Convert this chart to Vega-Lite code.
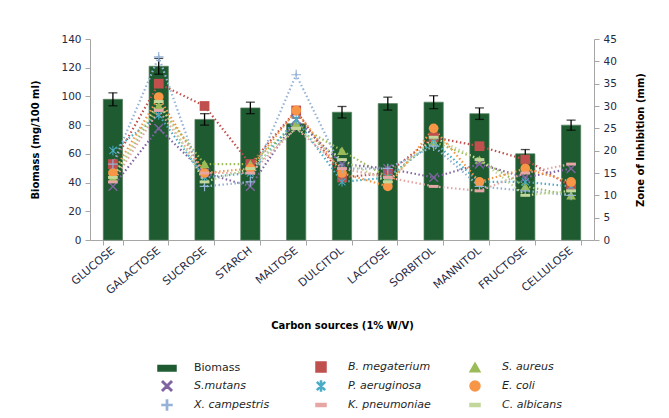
{
  "$schema": "https://vega.github.io/schema/vega-lite/v6.json",
  "width": 504,
  "height": 201,
  "autosize": {"type": "none"},
  "padding": {"left": 90, "top": 39, "right": 75, "bottom": 178},
  "background": "white",
  "config": {
    "view": {"stroke": null},
    "font": "DejaVu Sans",
    "axis": {"grid": false, "domainColor": "#A6A6A6", "tickColor": "#A6A6A6", "labelColor": "#1F2A44", "labelFontSize": 10.5, "titleFontSize": 10, "titleFontWeight": "bold", "titleColor": "#000000"},
    "legend": {"title": null, "orient": "none", "direction": "horizontal", "legendX": 71, "legendY": 322, "columns": 3, "columnPadding": 36, "rowPadding": 3, "symbolSize": 100, "labelFontSize": 11, "labelOffset": 21, "labelColor": "#1F1F1F", "labelLimit": 200, "gridAlign": "all"}
  },
  "data": {"values": [
    {"source": "GLUCOSE", "series": "Biomass", "value": 98, "err": 4.5},
    {"source": "GALACTOSE", "series": "Biomass", "value": 121, "err": 5.5},
    {"source": "SUCROSE", "series": "Biomass", "value": 84, "err": 4},
    {"source": "STARCH", "series": "Biomass", "value": 92, "err": 4},
    {"source": "MALTOSE", "series": "Biomass", "value": 81, "err": 4},
    {"source": "DULCITOL", "series": "Biomass", "value": 89, "err": 4},
    {"source": "LACTOSE", "series": "Biomass", "value": 95, "err": 4.5},
    {"source": "SORBITOL", "series": "Biomass", "value": 96, "err": 4.5},
    {"source": "MANNITOL", "series": "Biomass", "value": 88, "err": 4},
    {"source": "FRUCTOSE", "series": "Biomass", "value": 60, "err": 3},
    {"source": "CELLULOSE", "series": "Biomass", "value": 80, "err": 3.5},

    {"source": "GLUCOSE", "series": "B. megaterium", "value": 17},
    {"source": "GALACTOSE", "series": "B. megaterium", "value": 35},
    {"source": "SUCROSE", "series": "B. megaterium", "value": 30},
    {"source": "STARCH", "series": "B. megaterium", "value": 17},
    {"source": "MALTOSE", "series": "B. megaterium", "value": 29},
    {"source": "DULCITOL", "series": "B. megaterium", "value": 14},
    {"source": "LACTOSE", "series": "B. megaterium", "value": 15},
    {"source": "SORBITOL", "series": "B. megaterium", "value": 23},
    {"source": "MANNITOL", "series": "B. megaterium", "value": 21},
    {"source": "FRUCTOSE", "series": "B. megaterium", "value": 18},
    {"source": "CELLULOSE", "series": "B. megaterium", "value": 12},

    {"source": "GLUCOSE", "series": "S. aureus", "value": 14},
    {"source": "GALACTOSE", "series": "S. aureus", "value": 30},
    {"source": "SUCROSE", "series": "S. aureus", "value": 17},
    {"source": "STARCH", "series": "S. aureus", "value": 17},
    {"source": "MALTOSE", "series": "S. aureus", "value": 26},
    {"source": "DULCITOL", "series": "S. aureus", "value": 20},
    {"source": "LACTOSE", "series": "S. aureus", "value": 14},
    {"source": "SORBITOL", "series": "S. aureus", "value": 22},
    {"source": "MANNITOL", "series": "S. aureus", "value": 18},
    {"source": "FRUCTOSE", "series": "S. aureus", "value": 12},
    {"source": "CELLULOSE", "series": "S. aureus", "value": 10},

    {"source": "GLUCOSE", "series": "S.mutans", "value": 12},
    {"source": "GALACTOSE", "series": "S.mutans", "value": 25},
    {"source": "SUCROSE", "series": "S.mutans", "value": 15},
    {"source": "STARCH", "series": "S.mutans", "value": 12},
    {"source": "MALTOSE", "series": "S.mutans", "value": 27},
    {"source": "DULCITOL", "series": "S.mutans", "value": 17},
    {"source": "LACTOSE", "series": "S.mutans", "value": 16},
    {"source": "SORBITOL", "series": "S.mutans", "value": 14},
    {"source": "MANNITOL", "series": "S.mutans", "value": 17},
    {"source": "FRUCTOSE", "series": "S.mutans", "value": 14},
    {"source": "CELLULOSE", "series": "S.mutans", "value": 16},

    {"source": "GLUCOSE", "series": "P. aeruginosa", "value": 20},
    {"source": "GALACTOSE", "series": "P. aeruginosa", "value": 28},
    {"source": "SUCROSE", "series": "P. aeruginosa", "value": 14},
    {"source": "STARCH", "series": "P. aeruginosa", "value": 15},
    {"source": "MALTOSE", "series": "P. aeruginosa", "value": 27},
    {"source": "DULCITOL", "series": "P. aeruginosa", "value": 13},
    {"source": "LACTOSE", "series": "P. aeruginosa", "value": 14},
    {"source": "SORBITOL", "series": "P. aeruginosa", "value": 22},
    {"source": "MANNITOL", "series": "P. aeruginosa", "value": 13},
    {"source": "FRUCTOSE", "series": "P. aeruginosa", "value": 13},
    {"source": "CELLULOSE", "series": "P. aeruginosa", "value": 12},

    {"source": "GLUCOSE", "series": "E. coli", "value": 15},
    {"source": "GALACTOSE", "series": "E. coli", "value": 32},
    {"source": "SUCROSE", "series": "E. coli", "value": 15},
    {"source": "STARCH", "series": "E. coli", "value": 16},
    {"source": "MALTOSE", "series": "E. coli", "value": 29},
    {"source": "DULCITOL", "series": "E. coli", "value": 15},
    {"source": "LACTOSE", "series": "E. coli", "value": 12},
    {"source": "SORBITOL", "series": "E. coli", "value": 25},
    {"source": "MANNITOL", "series": "E. coli", "value": 13},
    {"source": "FRUCTOSE", "series": "E. coli", "value": 16},
    {"source": "CELLULOSE", "series": "E. coli", "value": 13},

    {"source": "GLUCOSE", "series": "X. campestris", "value": 17},
    {"source": "GALACTOSE", "series": "X. campestris", "value": 41},
    {"source": "SUCROSE", "series": "X. campestris", "value": 12},
    {"source": "STARCH", "series": "X. campestris", "value": 13},
    {"source": "MALTOSE", "series": "X. campestris", "value": 37},
    {"source": "DULCITOL", "series": "X. campestris", "value": 16},
    {"source": "LACTOSE", "series": "X. campestris", "value": 16},
    {"source": "SORBITOL", "series": "X. campestris", "value": 21},
    {"source": "MANNITOL", "series": "X. campestris", "value": 12},
    {"source": "FRUCTOSE", "series": "X. campestris", "value": 11},
    {"source": "CELLULOSE", "series": "X. campestris", "value": 10},

    {"source": "GLUCOSE", "series": "K. pneumoniae", "value": 13},
    {"source": "GALACTOSE", "series": "K. pneumoniae", "value": 29},
    {"source": "SUCROSE", "series": "K. pneumoniae", "value": 15},
    {"source": "STARCH", "series": "K. pneumoniae", "value": 15},
    {"source": "MALTOSE", "series": "K. pneumoniae", "value": 25},
    {"source": "DULCITOL", "series": "K. pneumoniae", "value": 16},
    {"source": "LACTOSE", "series": "K. pneumoniae", "value": 14},
    {"source": "SORBITOL", "series": "K. pneumoniae", "value": 12},
    {"source": "MANNITOL", "series": "K. pneumoniae", "value": 11},
    {"source": "FRUCTOSE", "series": "K. pneumoniae", "value": 15},
    {"source": "CELLULOSE", "series": "K. pneumoniae", "value": 17},

    {"source": "GLUCOSE", "series": "C. albicans", "value": 14},
    {"source": "GALACTOSE", "series": "C. albicans", "value": 31},
    {"source": "SUCROSE", "series": "C. albicans", "value": 13},
    {"source": "STARCH", "series": "C. albicans", "value": 16},
    {"source": "MALTOSE", "series": "C. albicans", "value": 25},
    {"source": "DULCITOL", "series": "C. albicans", "value": 18},
    {"source": "LACTOSE", "series": "C. albicans", "value": 13},
    {"source": "SORBITOL", "series": "C. albicans", "value": 23},
    {"source": "MANNITOL", "series": "C. albicans", "value": 18},
    {"source": "FRUCTOSE", "series": "C. albicans", "value": 10},
    {"source": "CELLULOSE", "series": "C. albicans", "value": 11}
  ]},
  "encoding": {
    "x": {
      "field": "source", "type": "nominal",
      "sort": ["GLUCOSE", "GALACTOSE", "SUCROSE", "STARCH", "MALTOSE", "DULCITOL", "LACTOSE", "SORBITOL", "MANNITOL", "FRUCTOSE", "CELLULOSE"],
      "scale": {"paddingInner": 0.58, "paddingOuter": 0.29},
      "axis": {"title": "Carbon sources (1% W/V)", "titleY": 85, "titleBaseline": "middle", "labelAngle": -40, "labelAlign": "right", "labelBaseline": "middle", "tickBand": "extent", "tickSize": 5, "labelPadding": 4, "labelFontSize": 11}
    }
  },
  "layer": [
    {
      "transform": [{"filter": "datum.series == 'Biomass'"}],
      "encoding": {
        "y": {"field": "value", "type": "quantitative", "scale": {"domain": [0, 140]},
          "axis": {"orient": "left", "title": "Biomass (mg/100 ml)", "values": [0, 20, 40, 60, 80, 100, 120, 140], "titleX": -55, "titleBaseline": "middle", "tickSize": 5, "labelPadding": 4}}
      },
      "layer": [
        {"mark": {"type": "bar", "fill": "#1E5B30", "stroke": "#557F60", "strokeWidth": 0.7}},
        {"mark": {"type": "errorbar", "color": "#000000", "thickness": 1.3, "ticks": {"size": 9, "color": "#000000"}}, "encoding": {"yError": {"field": "err"}}}
      ]
    },
    {
      "transform": [{"filter": "datum.series != 'Biomass'"}],
      "encoding": {
        "y": {"field": "value", "type": "quantitative", "scale": {"domain": [0, 45]},
          "axis": {"orient": "right", "title": "Zone of Inhibition (mm)", "values": [0, 5, 10, 15, 20, 25, 30, 35, 40, 45], "titleX": 46, "titleAngle": 270, "titleBaseline": "middle", "tickSize": 5, "labelPadding": 4}},
        "color": {"field": "series", "type": "nominal",
          "scale": {"domain": ["Biomass", "B. megaterium", "S. aureus", "S.mutans", "P. aeruginosa", "E. coli", "X. campestris", "K. pneumoniae", "C. albicans"],
            "range": ["#1E5B30", "#C0504D", "#9BBB59", "#8064A2", "#4BACC6", "#F79646", "#95B3D7", "#E6A6A5", "#C4D79B"]},
          "legend": {"encode": {"labels": {"update": {"fontStyle": {"signal": "datum.label == 'Biomass' ? 'normal' : 'italic'"}}}}}}
      },
      "layer": [
        {"mark": {"type": "line", "strokeDash": [1.5, 2.5], "strokeWidth": 2.2}},
        {"mark": {"type": "point", "filled": true, "size": 95, "opacity": 1},
          "encoding": {
            "shape": {"field": "series", "type": "nominal",
              "scale": {"domain": ["Biomass", "B. megaterium", "S. aureus", "S.mutans", "P. aeruginosa", "E. coli", "X. campestris", "K. pneumoniae", "C. albicans"],
                "range": [
                  "M-1.8,-0.55L1.8,-0.55L1.8,0.55L-1.8,0.55Z",
                  "square",
                  "triangle-up",
                  "M-1,-0.8L-0.8,-1L0,-0.2L0.8,-1L1,-0.8L0.2,0L1,0.8L0.8,1L0,0.2L-0.8,1L-1,0.8L-0.2,0Z",
                  "M-0.1,-1L0.1,-1L0.1,1L-0.1,1Z M-0.8,-0.65L-0.65,-0.8L0.8,0.65L0.65,0.8Z M0.65,-0.8L0.8,-0.65L-0.65,0.8L-0.8,0.65Z",
                  "circle",
                  "M-1,-0.12L-0.12,-0.12L-0.12,-1L0.12,-1L0.12,-0.12L1,-0.12L1,0.12L0.12,0.12L0.12,1L-0.12,1L-0.12,0.12L-1,0.12Z",
                  "M-1,-0.3L1,-0.3L1,0.3L-1,0.3Z",
                  "M-1,-0.3L1,-0.3L1,0.3L-1,0.3Z"
                ]}}
          }}
      ]
    }
  ],
  "resolve": {"scale": {"y": "independent"}}
}
